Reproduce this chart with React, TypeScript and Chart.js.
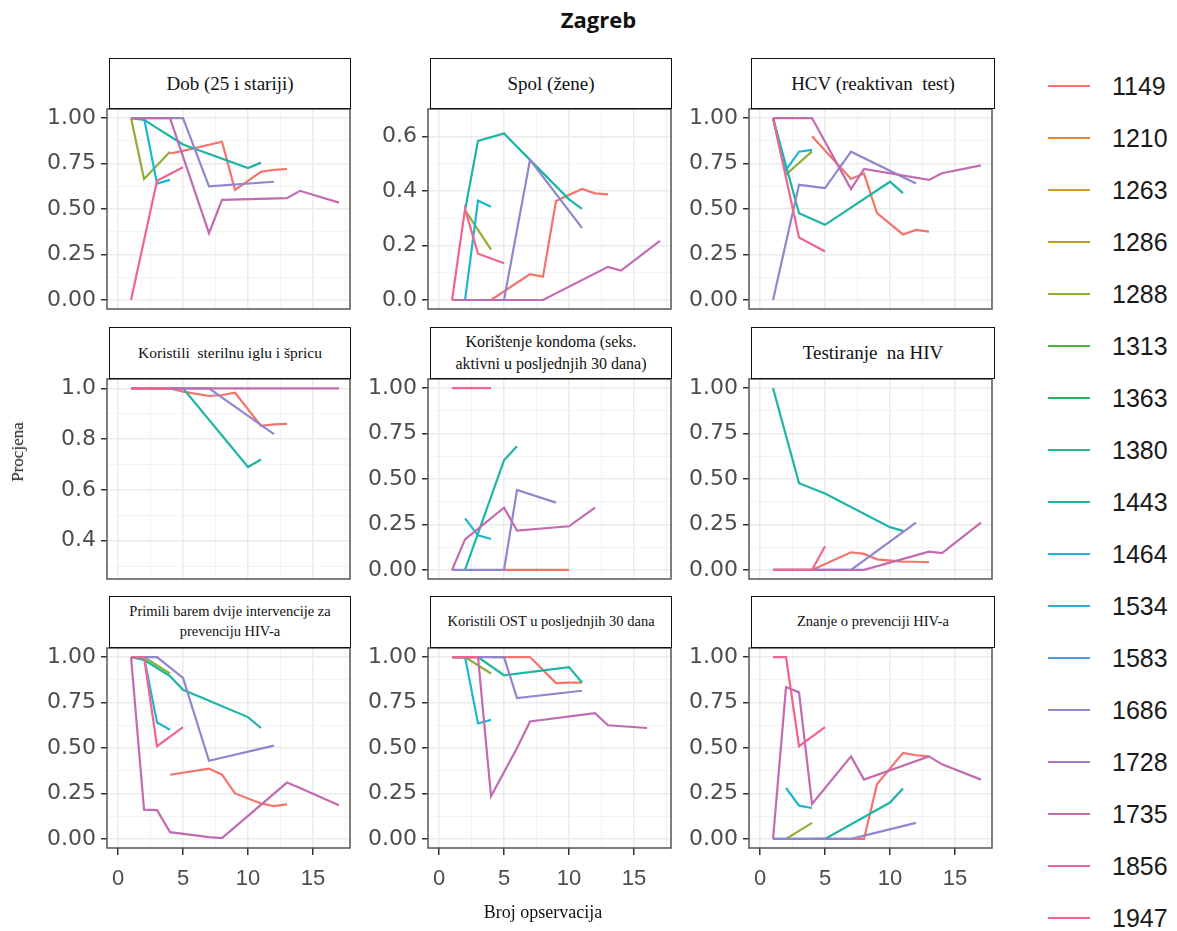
import React, { useEffect, useRef } from 'react';
import { Chart, registerables } from 'chart.js';

Chart.register(...registerables);

type Pt = [number, number];

// ---------- series ----------
const seriesIds = ['1149', '1210', '1263', '1286', '1288', '1313', '1363', '1380', '1443', '1464', '1534', '1583', '1686', '1728', '1735', '1856', '1947'];
const seriesColors = ['#F5736A', '#E8852B', '#D39A26', '#B3A125', '#8EAF35', '#4DB545', '#22B65C', '#21BC8D', '#1DB5A4', '#1BB7D0', '#2DACE2', '#4D9ADD', '#8F87CD', '#A37CC5', '#C26BB2', '#E564A6', '#F0648D'];

// ---------- ticks ----------
const xMajorTicks = [0, 5, 10, 15];
const xGridTicks = [0, 2.5, 5, 7.5, 10, 12.5, 15, 17.5];
const yTicksProportion = [0, 0.25, 0.5, 0.75, 1];
const yGridProportion = [0, 0.125, 0.25, 0.375, 0.5, 0.625, 0.75, 0.875, 1];
const yTicksSpol = [0, 0.2, 0.4, 0.6];
const yGridSpol = [0, 0.1, 0.2, 0.3, 0.4, 0.5, 0.6, 0.7];
const yTicksSterile = [0.4, 0.6, 0.8, 1.0];
const yGridSterile = [0.3, 0.4, 0.5, 0.6, 0.7, 0.8, 0.9, 1.0];

// ---------- data (x = broj opservacija, y = procjena) ----------
const dobData: Record<string, Pt[]> = {
  '1149': [[4, 0.805], [5, 0.82], [8, 0.87], [9, 0.605], [11, 0.705], [12, 0.715], [13, 0.72]],
  '1288': [[1, 1], [2, 0.665], [4, 0.815]],
  '1443': [[1, 1], [2, 0.99], [3, 0.945], [4, 0.9], [5, 0.855], [10, 0.725], [11, 0.755]],
  '1464': [[1, 1], [2, 1], [3, 0.64], [4, 0.66]],
  '1686': [[1, 1], [5, 1], [7, 0.625], [12, 0.65]],
  '1735': [[1, 1], [2, 1], [3, 1], [4, 1], [7, 0.367], [8, 0.55], [13, 0.56], [14, 0.6], [17, 0.535]],
  '1947': [[1, 0], [3, 0.655], [5, 0.73]],
};

const spolData: Record<string, Pt[]> = {
  '1149': [[4, 0], [7, 0.095], [8, 0.086], [9, 0.364], [11, 0.408], [12, 0.392], [13, 0.388]],
  '1288': [[2, 0.33], [4, 0.185]],
  '1443': [[2, 0.33], [3, 0.585], [5, 0.612], [7, 0.515], [10, 0.37], [11, 0.335]],
  '1464': [[2, 0], [3, 0.365], [4, 0.343]],
  '1686': [[1, 0], [5, 0], [7, 0.515], [11, 0.265]],
  '1735': [[1, 0], [4, 0], [7, 0], [8, 0], [13, 0.122], [14, 0.108], [17, 0.217]],
  '1947': [[1, 0], [2, 0.335], [3, 0.17], [5, 0.135]],
};

const hcvData: Record<string, Pt[]> = {
  '1149': [[4, 0.9], [7, 0.665], [8, 0.695], [9, 0.477], [11, 0.36], [12, 0.385], [13, 0.376]],
  '1288': [[1, 1], [2, 0.69], [4, 0.817]],
  '1443': [[1, 1], [3, 0.477], [5, 0.413], [10, 0.65], [11, 0.587]],
  '1464': [[1, 1], [2, 0.715], [3, 0.815], [4, 0.825]],
  '1686': [[1, 0], [3, 0.633], [5, 0.615], [7, 0.815], [12, 0.64]],
  '1735': [[1, 1], [4, 1], [7, 0.61], [8, 0.72], [13, 0.66], [14, 0.697], [17, 0.74]],
  '1947': [[1, 1], [3, 0.343], [5, 0.266]],
};

const sterileData: Record<string, Pt[]> = {
  '1149': [[4, 1], [5, 0.987], [7, 0.97], [8, 0.974], [9, 0.983], [11, 0.852], [12, 0.858], [13, 0.86]],
  '1443': [[1, 1], [5, 1], [10, 0.69], [11, 0.72]],
  '1686': [[1, 1], [7, 1], [12, 0.82]],
  '1735': [[1, 1], [2, 1], [3, 1], [4, 1], [7, 1], [8, 1], [13, 1], [14, 1], [17, 1]],
  '1947': [[1, 1], [4, 1]],
};

const condomData: Record<string, Pt[]> = {
  '1149': [[5, 0], [10, 0]],
  '1443': [[2, 0], [5, 0.603], [6, 0.68]],
  '1464': [[2, 0.283], [3, 0.19], [4, 0.17]],
  '1686': [[1, 0], [5, 0], [6, 0.44], [9, 0.37]],
  '1735': [[1, 0], [2, 0.168], [5, 0.342], [6, 0.216], [10, 0.24], [12, 0.342]],
  '1947': [[1, 1], [4, 1]],
};

const hivTestData: Record<string, Pt[]> = {
  '1149': [[4, 0], [7, 0.097], [8, 0.088], [9, 0.058], [11, 0.046], [12, 0.045], [13, 0.042]],
  '1443': [[1, 1], [3, 0.477], [5, 0.42], [10, 0.235], [11, 0.215]],
  '1686': [[1, 0], [7, 0], [12, 0.26]],
  '1735': [[1, 0], [4, 0], [7, 0], [8, 0], [13, 0.1], [14, 0.092], [17, 0.26]],
  '1947': [[1, 0], [4, 0], [5, 0.13]],
};

const interventionData: Record<string, Pt[]> = {
  '1149': [[4, 0.353], [7, 0.387], [8, 0.353], [9, 0.25], [11, 0.195], [12, 0.18], [13, 0.19]],
  '1288': [[1, 1], [2, 1], [4, 0.91]],
  '1443': [[1, 1], [2, 0.985], [3, 0.94], [4, 0.895], [5, 0.82], [10, 0.67], [11, 0.61]],
  '1464': [[1, 1], [2, 1], [3, 0.64], [4, 0.6]],
  '1686': [[1, 1], [3, 1], [5, 0.885], [7, 0.43], [12, 0.513]],
  '1735': [[1, 1], [2, 0.161], [3, 0.158], [4, 0.037], [7, 0.01], [8, 0.005], [13, 0.31], [14, 0.28], [17, 0.185]],
  '1947': [[1, 1], [2, 1], [3, 0.51], [5, 0.615]],
};

const ostData: Record<string, Pt[]> = {
  '1149': [[4, 1], [5, 1], [7, 1], [9, 0.857], [10, 0.86], [11, 0.86]],
  '1288': [[1, 1], [2, 1], [4, 0.91]],
  '1443': [[1, 1], [3, 1], [5, 0.9], [10, 0.945], [11, 0.86]],
  '1464': [[1, 1], [2, 1], [3, 0.635], [4, 0.655]],
  '1686': [[1, 1], [3, 1], [5, 1], [6, 0.775], [11, 0.815]],
  '1735': [[1, 1], [3, 1], [4, 0.234], [6, 0.5], [7, 0.646], [12, 0.692], [13, 0.625], [16, 0.61]],
  '1947': [[1, 1], [3, 1]],
};

const knowledgeData: Record<string, Pt[]> = {
  '1149': [[4, 0], [7, 0], [8, 0], [9, 0.3], [11, 0.473], [12, 0.46], [13, 0.454]],
  '1288': [[2, 0], [4, 0.088]],
  '1443': [[1, 0], [5, 0], [10, 0.2], [11, 0.277]],
  '1464': [[2, 0.28], [3, 0.183], [4, 0.17]],
  '1686': [[1, 0], [7, 0], [12, 0.088]],
  '1735': [[1, 0], [2, 0.835], [3, 0.806], [4, 0.192], [7, 0.454], [8, 0.326], [13, 0.454], [14, 0.41], [17, 0.326]],
  '1947': [[1, 1], [2, 1], [3, 0.51], [5, 0.615]],
};

// ---------- panels ----------
interface PanelCfg {
  title: string;
  titleSize: number;
  data: Record<string, Pt[]>;
  yMin: number;
  yMax: number;
  yMajor: number[];
  yGrid: number[];
  yDigits: number;
}

const panels: PanelCfg[] = [
  { title: 'Dob (25 i stariji)', titleSize: 19, data: dobData, yMin: -0.05, yMax: 1.05, yMajor: yTicksProportion, yGrid: yGridProportion, yDigits: 2 },
  { title: 'Spol (žene)', titleSize: 19, data: spolData, yMin: -0.033, yMax: 0.702, yMajor: yTicksSpol, yGrid: yGridSpol, yDigits: 1 },
  { title: 'HCV (reaktivan  test)', titleSize: 19, data: hcvData, yMin: -0.05, yMax: 1.05, yMajor: yTicksProportion, yGrid: yGridProportion, yDigits: 2 },
  { title: 'Koristili  sterilnu iglu i špricu', titleSize: 15.5, data: sterileData, yMin: 0.249, yMax: 1.037, yMajor: yTicksSterile, yGrid: yGridSterile, yDigits: 1 },
  { title: 'Korištenje kondoma (seks.\naktivni u posljednjih 30 dana)', titleSize: 16, data: condomData, yMin: -0.05, yMax: 1.05, yMajor: yTicksProportion, yGrid: yGridProportion, yDigits: 2 },
  { title: 'Testiranje  na HIV', titleSize: 19, data: hivTestData, yMin: -0.05, yMax: 1.05, yMajor: yTicksProportion, yGrid: yGridProportion, yDigits: 2 },
  { title: 'Primili barem dvije intervencije za\nprevenciju HIV-a', titleSize: 14.5, data: interventionData, yMin: -0.05, yMax: 1.05, yMajor: yTicksProportion, yGrid: yGridProportion, yDigits: 2 },
  { title: 'Koristili OST u posljednjih 30 dana', titleSize: 14.5, data: ostData, yMin: -0.05, yMax: 1.05, yMajor: yTicksProportion, yGrid: yGridProportion, yDigits: 2 },
  { title: 'Znanje o prevenciji HIV-a', titleSize: 14.5, data: knowledgeData, yMin: -0.05, yMax: 1.05, yMajor: yTicksProportion, yGrid: yGridProportion, yDigits: 2 },
];

// ---------- layout ----------
const X_MIN = -0.85;
const X_MAX = 17.85;
const COL_LEFT = [107, 428, 749];
const ROW_TOP = [109, 379, 648];
const PLOT_W = 243;
const PLOT_H = 200;
const AXIS_W = 90;
const PAD_TOP = 22;
const PAD_RIGHT = 8;
const PAD_BOTTOM = 22;
const XAXIS_H = 48;
const STRIP_TOP = [58, 327, 596];
const STRIP_LEFT = [109, 430, 751];
const STRIP_W = [242, 242, 244];

const TICK_FONT = "'Liberation Sans', Arial, sans-serif";
const Y_TICK_FONT = "'DejaVu Sans', 'Liberation Sans', sans-serif";
const SERIF = "'Liberation Serif', 'Times New Roman', serif";

const near = (list: number[], v: any) => list.some((m) => Math.abs(m - Number(v)) < 1e-6);

const panelBorder = {
  id: 'panelBorder',
  afterDatasetsDraw(chart: any) {
    const { ctx, chartArea: a } = chart;
    ctx.save();
    ctx.strokeStyle = '#555555';
    ctx.lineWidth = 1.5;
    ctx.strokeRect(a.left, a.top, a.right - a.left, a.bottom - a.top);
    ctx.restore();
  },
};

function Panel({ cfg, row, col }: { cfg: PanelCfg; row: number; col: number }) {
  const canvasRef = useRef<HTMLCanvasElement>(null);
  const isBottom = row === 2;
  const w = AXIS_W + PLOT_W + PAD_RIGHT;
  const h = PAD_TOP + PLOT_H + (isBottom ? XAXIS_H : PAD_BOTTOM);

  useEffect(() => {
    const datasets = seriesIds
      .map((id, i) => ({ id, i }))
      .filter(({ id }) => cfg.data[id])
      .map(({ id, i }) => ({
        label: id,
        data: cfg.data[id].map(([x, y]) => ({ x, y })),
        borderColor: seriesColors[i],
        backgroundColor: seriesColors[i],
        borderWidth: 2.2,
        pointRadius: 0,
        tension: 0,
        fill: false,
        order: seriesIds.length - i,
      }));

    const chart = new Chart(canvasRef.current!, {
      type: 'line',
      data: { datasets },
      options: {
        animation: false,
        responsive: false,
        devicePixelRatio: 1,
        layout: { padding: { left: 0, top: PAD_TOP, right: PAD_RIGHT, bottom: isBottom ? 0 : PAD_BOTTOM } },
        plugins: { legend: { display: false }, tooltip: { enabled: false } },
        scales: {
          x: {
            type: 'linear',
            min: X_MIN,
            max: X_MAX,
            afterBuildTicks: (s: any) => {
              s.ticks = xGridTicks.map((v) => ({ value: v }));
            },
            afterFit: (s: any) => {
              s.height = isBottom ? XAXIS_H : 0;
            },
            ticks: {
              display: isBottom,
              autoSkip: false,
              maxRotation: 0,
              padding: 11,
              color: '#4D4D4D',
              font: { family: TICK_FONT, size: 22 },
              callback: (v: any) => (near(xMajorTicks, v) ? String(v) : ''),
            },
            grid: {
              drawTicks: isBottom,
              tickLength: 7,
              tickWidth: 1.5,
              color: (c: any) => (c.tick && near(xMajorTicks, c.tick.value) ? '#EBEBEB' : '#F2F2F2'),
              lineWidth: (c: any) => (c.tick && near(xMajorTicks, c.tick.value) ? 1.5 : 0.9),
              tickColor: (c: any) => (c.tick && near(xMajorTicks, c.tick.value) ? '#333333' : 'rgba(0,0,0,0)'),
            },
            border: { display: false },
          },
          y: {
            type: 'linear',
            min: cfg.yMin,
            max: cfg.yMax,
            afterBuildTicks: (s: any) => {
              s.ticks = cfg.yGrid.map((v) => ({ value: v }));
            },
            afterFit: (s: any) => {
              s.width = AXIS_W;
            },
            ticks: {
              autoSkip: false,
              padding: 5,
              color: '#4D4D4D',
              font: { family: Y_TICK_FONT, size: 22 },
              callback: (v: any) => (near(cfg.yMajor, v) ? Number(v).toFixed(cfg.yDigits) : ''),
            },
            grid: {
              drawTicks: true,
              tickLength: 6,
              tickWidth: 1.5,
              color: (c: any) => (c.tick && near(cfg.yMajor, c.tick.value) ? '#EBEBEB' : '#F2F2F2'),
              lineWidth: (c: any) => (c.tick && near(cfg.yMajor, c.tick.value) ? 1.5 : 0.9),
              tickColor: (c: any) => (c.tick && near(cfg.yMajor, c.tick.value) ? '#333333' : 'rgba(0,0,0,0)'),
            },
            border: { display: false },
          },
        },
      } as any,
      plugins: [panelBorder],
    });
    return () => chart.destroy();
  }, []);

  return (
    <div style={{ position: 'absolute', left: COL_LEFT[col] - AXIS_W, top: ROW_TOP[row] - PAD_TOP, width: w, height: h }}>
      <canvas ref={canvasRef} width={w} height={h} style={{ width: w, height: h, display: 'block' }} />
    </div>
  );
}

function Strip({ cfg, row, col }: { cfg: PanelCfg; row: number; col: number }) {
  const top = STRIP_TOP[row];
  const bottom = ROW_TOP[row];
  return (
    <div
      style={{
        position: 'absolute',
        left: STRIP_LEFT[col],
        top,
        width: STRIP_W[col],
        height: bottom - top,
        boxSizing: 'border-box',
        border: '1.5px solid #111',
        background: '#fff',
        display: 'flex',
        alignItems: 'center',
        justifyContent: 'center',
        textAlign: 'center',
        fontFamily: SERIF,
        fontSize: cfg.titleSize,
        lineHeight: 1.35,
        color: '#111',
        whiteSpace: 'pre',
      }}
    >
      {cfg.title}
    </div>
  );
}

export default function App() {
  return (
    <div style={{ position: 'absolute', left: 0, top: 0, width: 1177, height: 931, background: '#fff', overflow: 'hidden' }}>
      <div
        style={{
          position: 'absolute', left: 0, width: 1177, top: 4, textAlign: 'center',
          fontFamily: "'Open Sans', 'Noto Sans', sans-serif", fontWeight: 700, fontSize: 22, color: '#111',
          paddingLeft: 10,
        }}
      >
        Zagreb
      </div>
      {panels.map((cfg, i) => (
        <Panel key={'p' + i} cfg={cfg} row={Math.floor(i / 3)} col={i % 3} />
      ))}
      {panels.map((cfg, i) => (
        <Strip key={'s' + i} cfg={cfg} row={Math.floor(i / 3)} col={i % 3} />
      ))}
      <div
        style={{
          position: 'absolute', left: 18, top: 452, transform: 'translate(-50%, -50%) rotate(-90deg)',
          fontFamily: SERIF, fontSize: 17, color: '#111', whiteSpace: 'nowrap',
        }}
      >
        Procjena
      </div>
      <div
        style={{
          position: 'absolute', left: 543, top: 912, transform: 'translate(-50%, -50%)',
          fontFamily: SERIF, fontSize: 18, color: '#111', whiteSpace: 'nowrap',
        }}
      >
        Broj opservacija
      </div>
      {seriesIds.map((id, i) => {
        const y = 86 + i * 52;
        return (
          <React.Fragment key={id}>
            <div style={{ position: 'absolute', left: 1048, top: y - 1.25, width: 42, height: 2.5, background: seriesColors[i] }} />
            <div
              style={{
                position: 'absolute', left: 1112, top: y, transform: 'translateY(-50%)',
                fontFamily: TICK_FONT, fontSize: 25, color: '#1a1a1a', lineHeight: 1,
              }}
            >
              {id}
            </div>
          </React.Fragment>
        );
      })}
    </div>
  );
}
